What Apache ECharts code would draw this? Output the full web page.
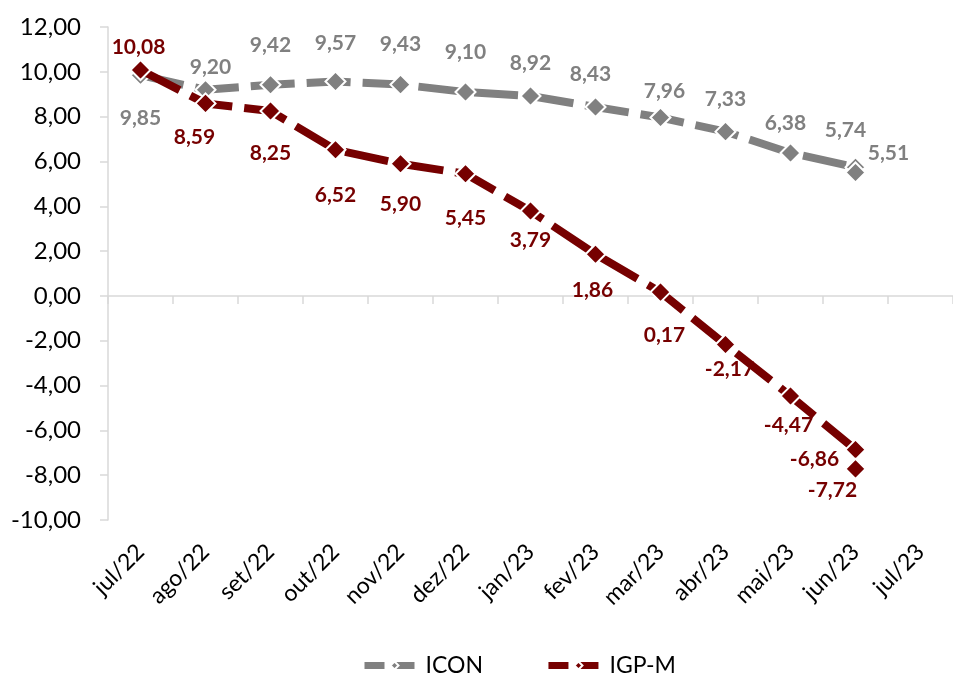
<!DOCTYPE html>
<html>
<head>
<meta charset="utf-8">
<script src="https://cdn.jsdelivr.net/npm/echarts@6/dist/echarts.min.js"></script>
<style>
  html, body { margin: 0; padding: 0; background: #fff; }
  #grafico { width: 953px; height: 673px; }
</style>
</head>
<body>
<div id="grafico"></div>
<script>
// eixo x (rotulos) e meses de cada ponto (os dois ultimos caem em jun/23)
var meses = ['jul/22', 'ago/22', 'set/22', 'out/22', 'nov/22', 'dez/22', 'jan/23', 'fev/23', 'mar/23', 'abr/23', 'mai/23', 'jun/23', 'jul/23'];
var mesesPontos = ['jul/22', 'ago/22', 'set/22', 'out/22', 'nov/22', 'dez/22', 'jan/23', 'fev/23', 'mar/23', 'abr/23', 'mai/23', 'jun/23', 'jun/23'];

var icon = [9.85, 9.20, 9.42, 9.57, 9.43, 9.10, 8.92, 8.43, 7.96, 7.33, 6.38, 5.74, 5.51];
var igpm = [10.08, 8.59, 8.25, 6.52, 5.90, 5.45, 3.79, 1.86, 0.17, -2.17, -4.47, -6.86, -7.72];

// deslocamento dos rotulos de dados (px, em relacao ao marcador)
var offIcon = [[0, 43], [5, -23], [0, -40], [0, -38], [0, -40], [0, -40], [0, -33], [-5, -33], [4, -26], [0, -32], [-5, -30], [-10, -37], [33, -19]];
var offIgpm = [[-2, -23], [-11, 34], [0, 42], [0, 45], [0, 41], [0, 44], [0, 29], [-3, 36], [4, 43], [4, 25], [-2, 29], [-41, 10], [-23, 21]];

var fonte = 'Lato, "Open Sans", sans-serif';

function virgula(v) {
  return v.toFixed(2).replace('.', ',');
}

function montaDados(valores, offs) {
  return valores.map(function (v, i) {
    return { value: [mesesPontos[i], v], label: { offset: offs[i] } };
  });
}

var dom = document.getElementById('grafico');
var myChart = echarts.init(dom, null, { renderer: 'canvas' });

var option = {
  animation: false,
  textStyle: { fontFamily: fonte },
  grid: { left: 108, top: 27, width: 849, bottom: 153, containLabel: false },
  legend: {
    top: 649,
    left: 356,
    itemWidth: 60,
    itemHeight: 10,
    itemGap: 62,
    lineStyle: { width: 7, type: [20, 10] },
    textStyle: { fontSize: 23, color: '#000', fontFamily: fonte, padding: [0, 0, 0, -4] },
    data: ['ICON', 'IGP-M']
  },
  xAxis: [
    {
      type: 'category',
      data: meses,
      position: 'bottom',
      boundaryGap: true,
      axisLine: { show: false, onZero: false },
      axisTick: { show: false },
      axisLabel: { rotate: 45, margin: 28, fontSize: 23, color: '#000', fontFamily: fonte, interval: 0 }
    },
    {
      type: 'category',
      data: meses,
      position: 'bottom',
      boundaryGap: true,
      axisLine: { show: true, onZero: true, lineStyle: { color: '#d9d9d9', width: 1.5 } },
      axisTick: { show: true, length: 8, lineStyle: { color: '#d9d9d9', width: 1.5 } },
      axisLabel: { show: false }
    }
  ],
  yAxis: {
    type: 'value',
    min: -10,
    max: 12,
    interval: 2,
    axisLine: { show: true, lineStyle: { color: '#d9d9d9', width: 1.5 } },
    axisTick: { show: true, length: 8, lineStyle: { color: '#d9d9d9', width: 1.5 } },
    splitLine: { show: false },
    axisLabel: { fontSize: 24, color: '#000', margin: 27, fontFamily: fonte, formatter: virgula }
  },
  series: [
    {
      name: 'ICON',
      type: 'line',
      xAxisIndex: 0,
      data: montaDados(icon, offIcon),
      symbol: 'diamond',
      symbolSize: 20,
      lineStyle: { color: '#808080', width: 8, type: [44, 12] },
      itemStyle: { color: '#808080', borderColor: '#fff', borderWidth: 2 },
      label: {
        show: true,
        position: 'inside',
        fontSize: 21,
        fontWeight: 'bold',
        color: '#808080',
        fontFamily: fonte,
        formatter: function (p) { return virgula(p.value[1]); }
      },
      z: 2
    },
    {
      name: 'IGP-M',
      type: 'line',
      xAxisIndex: 0,
      data: montaDados(igpm, offIgpm),
      symbol: 'diamond',
      symbolSize: 20,
      lineStyle: { color: '#760000', width: 8, type: [44, 12] },
      itemStyle: { color: '#760000', borderColor: '#fff', borderWidth: 2 },
      label: {
        show: true,
        position: 'inside',
        fontSize: 21,
        fontWeight: 'bold',
        color: '#760000',
        fontFamily: fonte,
        formatter: function (p) { return virgula(p.value[1]); }
      },
      z: 3
    }
  ]
};

if (option && typeof option === 'object') {
  myChart.setOption(option);
}

window.addEventListener('resize', myChart.resize);
</script>
</body>
</html>
